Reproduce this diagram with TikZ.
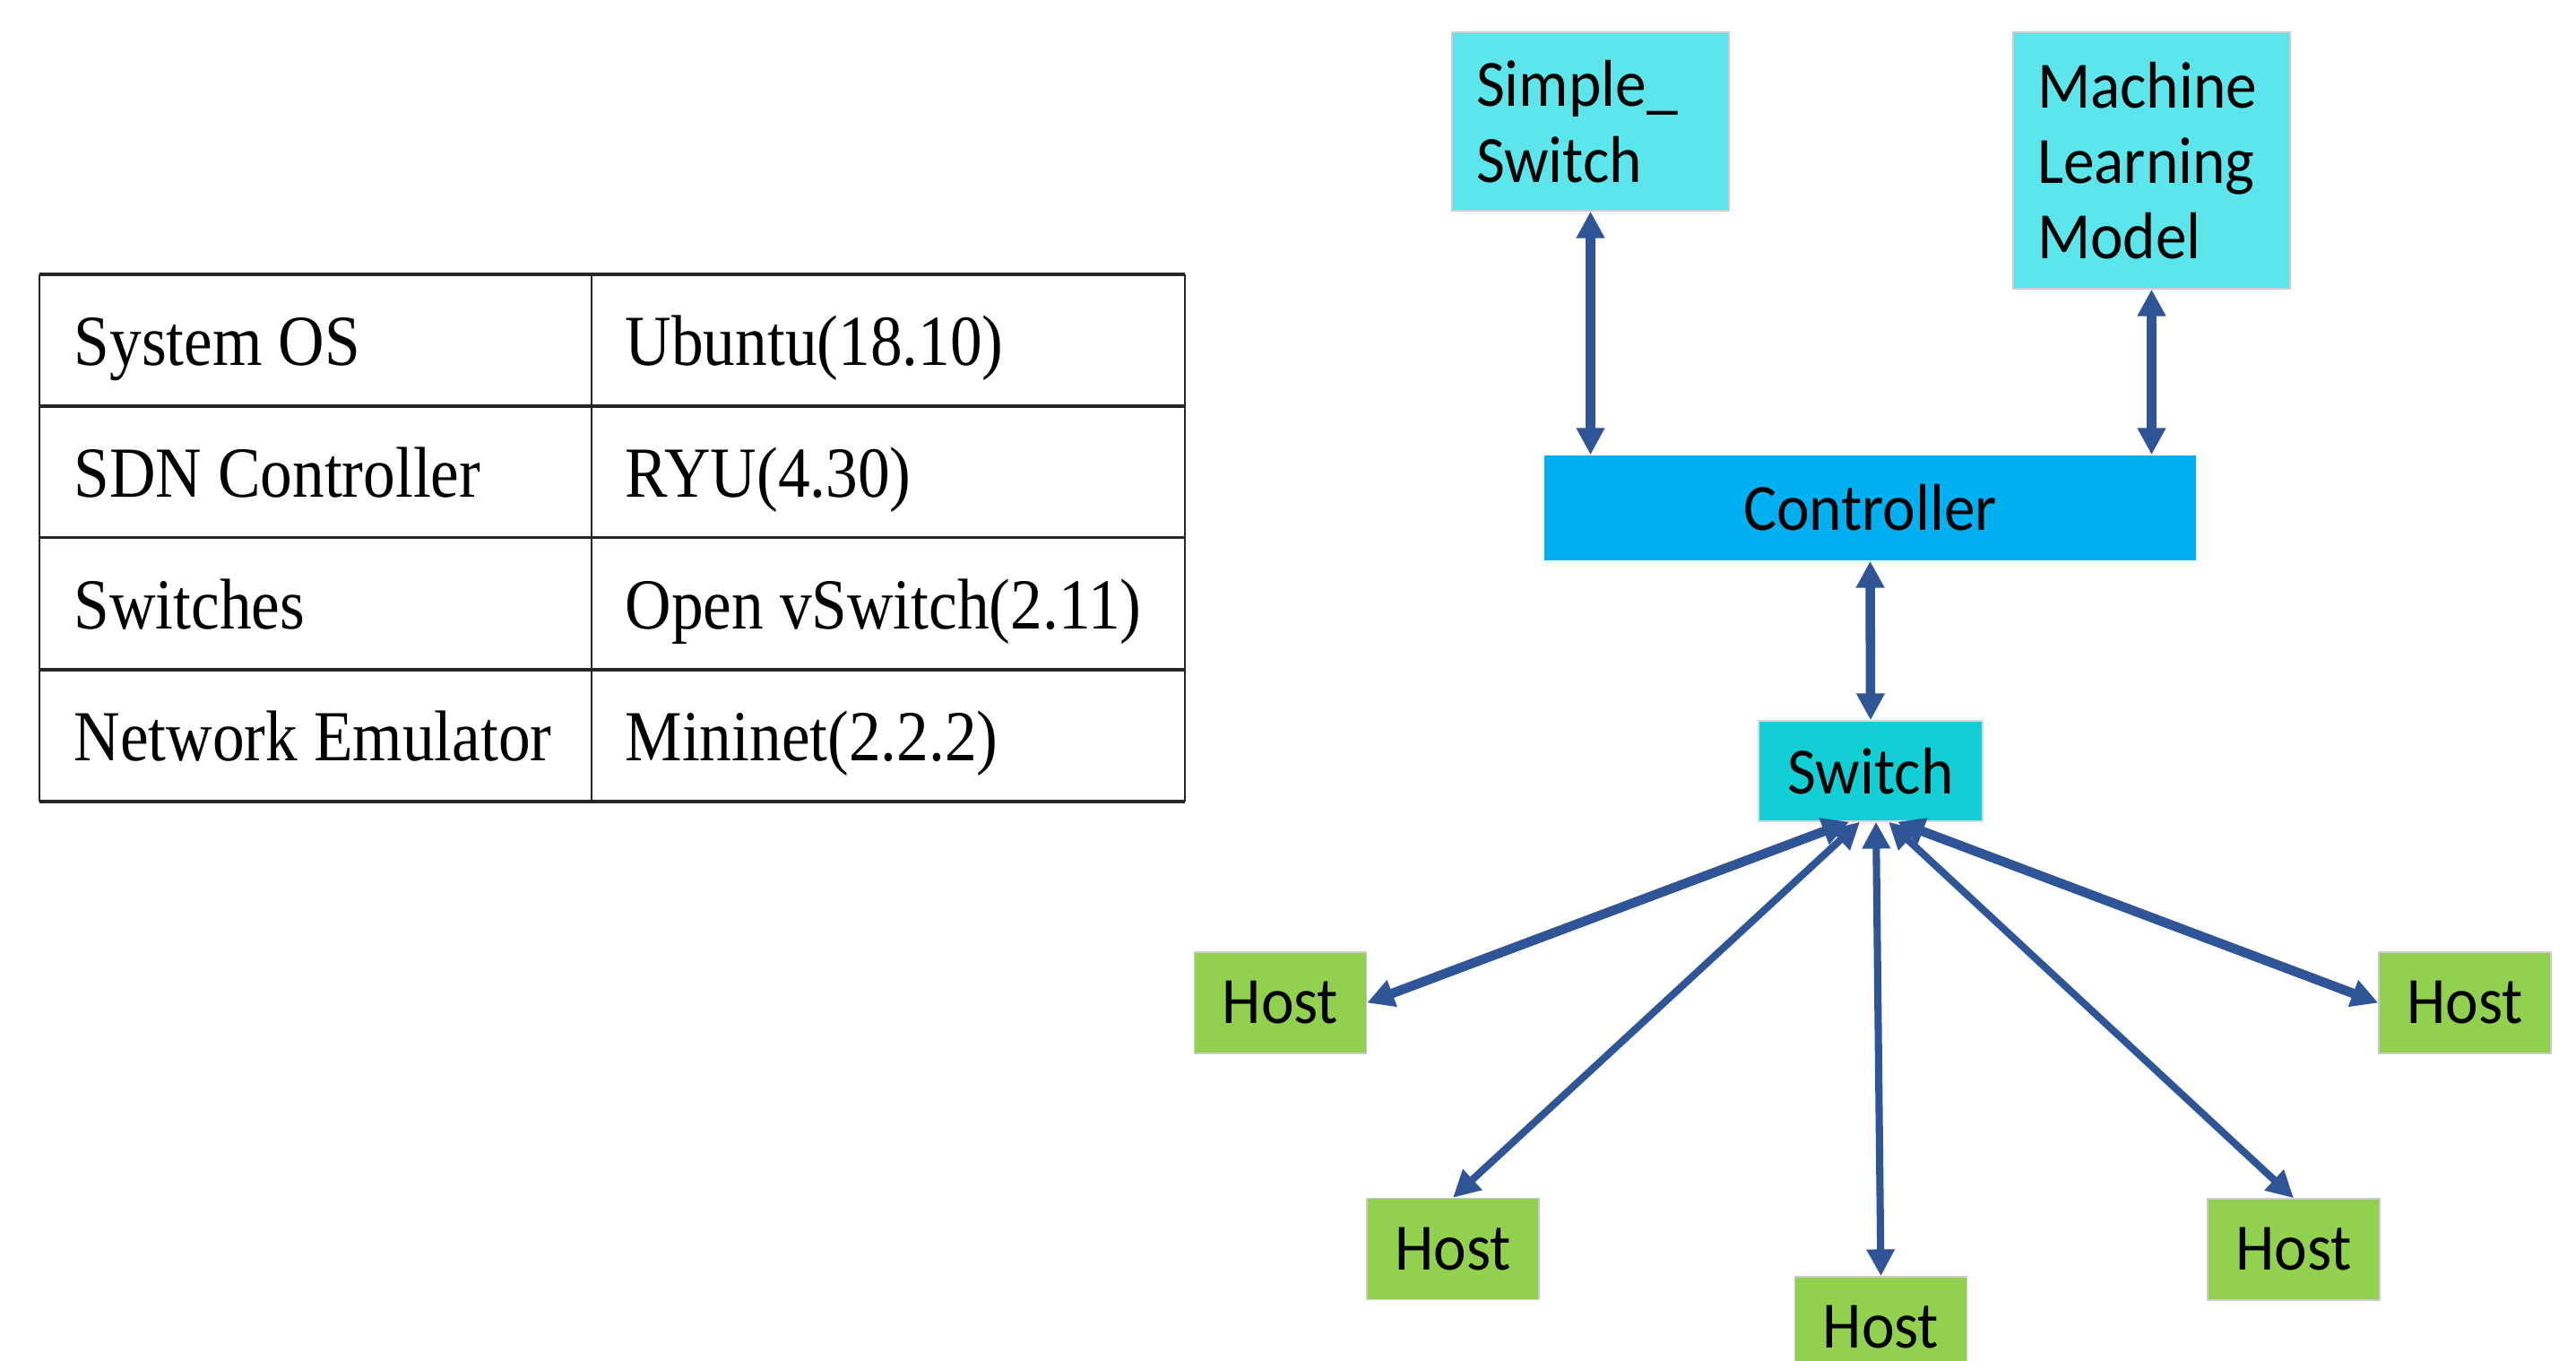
\documentclass[tikz,border=0pt]{standalone}
\usepackage{fontspec}
\usetikzlibrary{positioning}
\usetikzlibrary{arrows.meta}
\newfontfamily\tabfont[FakeStretch=0.89]{Liberation Serif}
\newfontfamily\boxfont[FakeStretch=0.94]{Carlito}
\definecolor{lightcyan}{HTML}{5CE6EC}
\definecolor{ctrlblue}{HTML}{00B0F0}
\definecolor{swcyan}{HTML}{12CFD6}
\definecolor{hostgreen}{HTML}{92D050}
\definecolor{linkblue}{HTML}{2F5597}

\begin{document}
\begin{tikzpicture}[
>={Triangle[length=8.5pt, width=8.5pt]},
tabtext/.style = {font = \tabfont\fontsize{22.8}{26}\selectfont, inner sep = 0pt},
tabrule/.style = {line width = 1.1pt, draw = black!85},
tabsep/.style = {line width = 0.6pt, draw = black!85},
appbox/.style = {shape = rectangle, draw = gray!40, fill = lightcyan, font = \boxfont\fontsize{21}{24}\selectfont, align = left, text width = 2.55cm, inner xsep = 0.27cm, minimum height = 1.99cm},
ctrlbox/.style = {shape = rectangle, fill = ctrlblue, font = \boxfont\fontsize{21}{24}\selectfont, minimum width = 7.27cm, minimum height = 1.17cm, inner sep = 0pt},
swbox/.style = {shape = rectangle, draw = gray!30, fill = swcyan, font = \boxfont\fontsize{21}{24}\selectfont, minimum width = 2.5cm, minimum height = 1.12cm, inner sep = 0pt},
hostbox/.style = {shape = rectangle, draw = gray!40, fill = hostgreen, font = \boxfont\fontsize{21}{24}\selectfont, minimum width = 1.92cm, minimum height = 1.13cm, inner sep = 0pt},
link/.style = {<->, line width = 3pt, draw = linkblue},
thinlink/.style = {link, line width = 2.3pt},
]
\useasboundingbox (0,0) rectangle (28.74,15.18);

% table
\draw[tabrule] (0.44,12.12) -- (13.22,12.12);
\draw[tabrule] (0.44,10.65) -- (13.22,10.65);
\draw[tabrule] (0.44,9.185) -- (13.22,9.185);
\draw[tabrule] (0.44,7.71) -- (13.22,7.71);
\draw[tabrule] (0.44,6.24) -- (13.22,6.24);
\draw[tabsep] (0.44,12.12) -- (0.44,6.24);
\draw[tabsep] (6.6,12.12) -- (6.6,6.24);
\draw[tabsep] (13.22,12.12) -- (13.22,6.24);

\node[tabtext, anchor = base west] (os) at (0.82,11.10) {System OS};
\node[tabtext, anchor = base west] (osv) at (6.97,11.10) {Ubuntu(18.10)};
\node[tabtext, anchor = base west] (sdn) at (0.82,9.63) {SDN Controller};
\node[tabtext, anchor = base west] (sdnv) at (6.97,9.63) {RYU(4.30)};
\node[tabtext, anchor = base west] (swi) at (0.82,8.165) {Switches};
\node[tabtext, anchor = base west] (swiv) at (6.97,8.165) {Open vSwitch(2.11)};
\node[tabtext, anchor = base west] (emu) at (0.82,6.69) {Network Emulator};
\node[tabtext, anchor = base west] (emuv) at (6.97,6.69) {Mininet(2.2.2)};

% topology
\node[appbox] (simple) at (17.745,13.825) {Simple\_\\Switch};
\node[appbox, minimum height = 2.86cm] (ml) at (24.005,13.39) {Machine\\Learning\\Model};
\node[ctrlbox] (ctrl) at (20.865,9.515) {Controller};
\node[swbox] (sw) at (20.87,6.58) {Switch};
\node[hostbox] (h1) at (14.285,3.995) {Host};
\node[hostbox] (h2) at (16.21,1.25) {Host};
\node[hostbox] (h3) at (20.985,0.375) {Host};
\node[hostbox] (h4) at (25.59,1.245) {Host};
\node[hostbox] (h5) at (27.5,3.995) {Host};

\draw[link] (simple.south) -- (simple.south |- ctrl.north);
\draw[link] (ml.south) -- (ml.south |- ctrl.north);
\draw[link] (ctrl.south) -- (sw.north);
\draw[link] ([xshift=-0.24cm]sw.south) -- (h1.east);
\draw[thinlink] ([xshift=-0.12cm]sw.south) -- (h2.north);
\draw[thinlink] ([xshift=0.06cm]sw.south) -- (h3.north);
\draw[thinlink] ([xshift=0.2cm]sw.south) -- (h4.north);
\draw[link] ([xshift=0.3cm]sw.south) -- (h5.west);
\end{tikzpicture}
\end{document}
